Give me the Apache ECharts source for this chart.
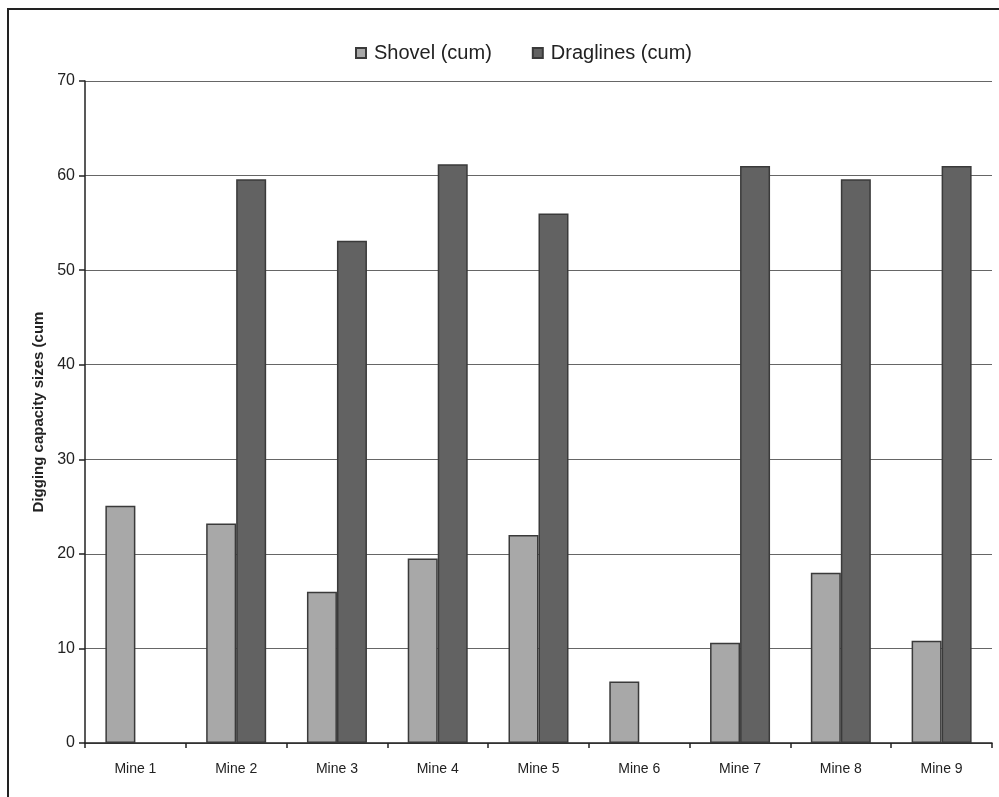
<!DOCTYPE html>
<html>
<head>
<meta charset="utf-8">
<script src="https://cdn.jsdelivr.net/npm/echarts@6/dist/echarts.min.js"></script>
<style>html,body{margin:0;padding:0;background:#fff;}#c{width:999px;height:797px;}</style>
</head>
<body>
<div id="c"></div>
<script>
const categories = ['Mine 1','Mine 2','Mine 3','Mine 4','Mine 5','Mine 6','Mine 7','Mine 8','Mine 9'];
const shovel = [25.1, 23.2, 16.0, 19.5, 22.0, 6.5, 10.6, 18.0, 10.8];
const draglines = [null, 59.6, 53.1, 61.2, 56.0, null, 61.0, 59.6, 61.0];
const yTicks = [0,10,20,30,40,50,60,70];

const chart = echarts.init(document.getElementById('c'), null, {renderer:'canvas'});
const font = '"Liberation Sans", Arial, sans-serif';
chart.setOption({
  animation:false,
  backgroundColor:'#fff',
  graphic:[{type:'rect',shape:{x:8,y:9,width:1100,height:900},style:{fill:'none',stroke:'#222',lineWidth:2},silent:true}],
  legend:{
    top:38, left:350, itemWidth:10, itemHeight:10, itemGap:40,
    textStyle:{fontFamily:font,fontSize:20,color:'#222',padding:[0,0,0,3]},
    data:[{name:'Shovel (cum)',icon:'rect'},{name:'Draglines (cum)',icon:'rect'}]
  },
  grid:{left:85,right:7,top:81,bottom:54,containLabel:false},
  xAxis:{
    type:'category', data:categories,
    axisLine:{lineStyle:{color:'#222',width:1.5}},
    axisTick:{show:true,alignWithLabel:false,length:5,lineStyle:{color:'#222',width:1.5}},
    axisLabel:{fontFamily:font,fontSize:14,color:'#222',margin:19}
  },
  yAxis:{
    type:'value', min:0, max:70, interval:10,
    name:'Digging capacity sizes (cum', nameLocation:'middle', nameGap:38,
    nameTextStyle:{fontFamily:font,fontSize:15,fontWeight:'bold',color:'#222'},
    axisLine:{show:true,lineStyle:{color:'#222',width:1.5}},
    axisTick:{show:true,length:6,lineStyle:{color:'#222',width:1.5}},
    axisLabel:{fontFamily:font,fontSize:16,color:'#222',margin:10,
      formatter:v=>yTicks.includes(v)?String(v):''},
    splitLine:{show:true,lineStyle:{color:'#666',width:1.2}}
  },
  series:[
    {name:'Shovel (cum)',type:'bar',data:shovel,barWidth:30,barGap:'0%',
      itemStyle:{color:'#a8a8a8',borderColor:'#3a3a3a',borderWidth:1.5}},
    {name:'Draglines (cum)',type:'bar',data:draglines,barWidth:30,barGap:'0%',
      itemStyle:{color:'#626262',borderColor:'#3a3a3a',borderWidth:1.5}}
  ]
});
</script>
</body>
</html>
